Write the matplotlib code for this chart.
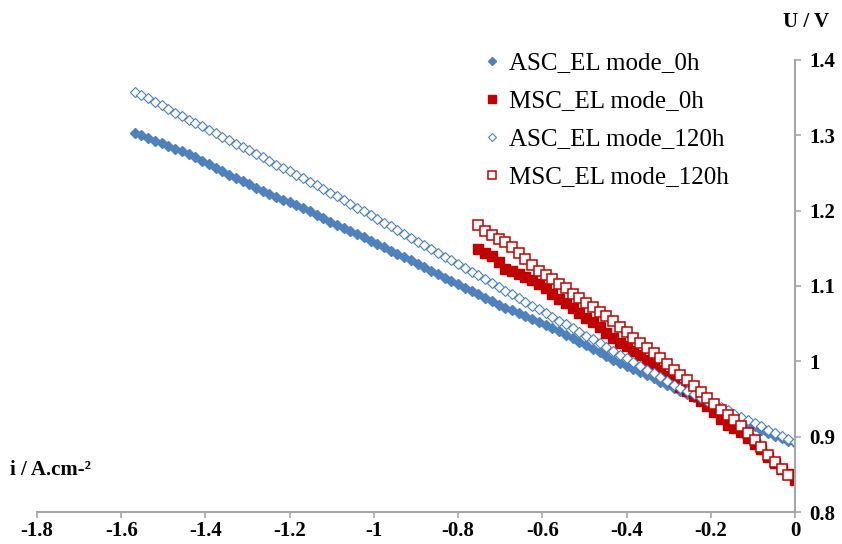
import matplotlib
matplotlib.use("Agg")
import matplotlib.pyplot as plt
from matplotlib.ticker import FuncFormatter, MultipleLocator

plt.rcParams["font.family"] = ["Liberation Serif", "DejaVu Serif"]

# current density grid (A/cm2), shared by the ASC curves
i_asc = [
    -1.568, -1.552, -1.536, -1.520, -1.504, -1.488, -1.472, -1.456, -1.440, -1.424,
    -1.408, -1.392, -1.376, -1.360, -1.344, -1.328, -1.312, -1.296, -1.280, -1.264,
    -1.248, -1.232, -1.216, -1.200, -1.184, -1.168, -1.152, -1.136, -1.120, -1.104,
    -1.088, -1.072, -1.056, -1.040, -1.024, -1.008, -0.992, -0.976, -0.960, -0.944,
    -0.928, -0.912, -0.896, -0.880, -0.864, -0.848, -0.832, -0.816, -0.800, -0.784,
    -0.768, -0.752, -0.736, -0.720, -0.704, -0.688, -0.672, -0.656, -0.640, -0.624,
    -0.608, -0.592, -0.576, -0.560, -0.544, -0.528, -0.512, -0.496, -0.480, -0.464,
    -0.448, -0.432, -0.416, -0.400, -0.384, -0.368, -0.352, -0.336, -0.320, -0.304,
    -0.288, -0.272, -0.256, -0.240, -0.224, -0.208, -0.192, -0.176, -0.160, -0.144,
    -0.128, -0.112, -0.096, -0.080, -0.064, -0.048, -0.032, -0.016, 0.000,
]

u_asc_0h = [
    1.303, 1.300, 1.296, 1.293, 1.290, 1.286, 1.282, 1.279, 1.275, 1.271,
    1.266, 1.262, 1.257, 1.253, 1.248, 1.243, 1.239, 1.235, 1.230, 1.226,
    1.222, 1.218, 1.214, 1.211, 1.207, 1.203, 1.199, 1.194, 1.190, 1.185,
    1.181, 1.177, 1.173, 1.169, 1.165, 1.160, 1.156, 1.152, 1.147, 1.143,
    1.138, 1.134, 1.129, 1.125, 1.120, 1.116, 1.111, 1.107, 1.102, 1.098,
    1.093, 1.089, 1.084, 1.080, 1.075, 1.071, 1.068, 1.064, 1.060, 1.056,
    1.052, 1.048, 1.044, 1.040, 1.035, 1.031, 1.026, 1.022, 1.017, 1.012,
    1.007, 1.002, 0.998, 0.994, 0.990, 0.986, 0.982, 0.978, 0.973, 0.969,
    0.965, 0.961, 0.957, 0.953, 0.949, 0.945, 0.940, 0.936, 0.931, 0.926,
    0.922, 0.918, 0.914, 0.909, 0.905, 0.901, 0.898, 0.894, 0.891,
]

u_asc_120h = [
    1.358, 1.353, 1.349, 1.344, 1.340, 1.335, 1.330, 1.326, 1.321, 1.317,
    1.312, 1.307, 1.303, 1.298, 1.294, 1.289, 1.284, 1.280, 1.275, 1.271,
    1.266, 1.261, 1.257, 1.252, 1.247, 1.243, 1.238, 1.234, 1.229, 1.224,
    1.219, 1.214, 1.209, 1.204, 1.199, 1.194, 1.189, 1.184, 1.179, 1.174,
    1.169, 1.164, 1.159, 1.154, 1.149, 1.144, 1.139, 1.134, 1.129, 1.124,
    1.119, 1.114, 1.109, 1.104, 1.099, 1.094, 1.089, 1.084, 1.079, 1.074,
    1.069, 1.064, 1.059, 1.054, 1.049, 1.044, 1.039, 1.034, 1.029, 1.024,
    1.019, 1.014, 1.009, 1.004, 0.999, 0.994, 0.989, 0.984, 0.979, 0.974,
    0.969, 0.964, 0.960, 0.956, 0.951, 0.947, 0.943, 0.939, 0.935, 0.930,
    0.926, 0.922, 0.918, 0.914, 0.909, 0.905, 0.901, 0.897, 0.893,
]

# current density grid for the MSC curves
i_msc = [
    -0.752, -0.736, -0.720, -0.704, -0.688, -0.672, -0.656, -0.640, -0.624, -0.608,
    -0.592, -0.576, -0.560, -0.544, -0.528, -0.512, -0.496, -0.480, -0.464, -0.448,
    -0.432, -0.416, -0.400, -0.384, -0.368, -0.352, -0.336, -0.320, -0.304, -0.288,
    -0.272, -0.256, -0.240, -0.224, -0.208, -0.192, -0.176, -0.160, -0.144, -0.128,
    -0.112, -0.096, -0.080, -0.064, -0.048, -0.032, -0.016, 0.000,
]

u_msc_0h = [
    1.149, 1.144, 1.140, 1.132, 1.123, 1.120, 1.116, 1.112, 1.108, 1.103,
    1.097, 1.090, 1.083, 1.077, 1.071, 1.064, 1.058, 1.052, 1.045, 1.038,
    1.031, 1.025, 1.020, 1.014, 1.008, 1.002, 0.996, 0.989, 0.981, 0.974,
    0.966, 0.960, 0.954, 0.948, 0.941, 0.933, 0.924, 0.916, 0.911, 0.906,
    0.898, 0.890, 0.883, 0.873, 0.865, 0.857, 0.850, 0.842,
]

u_msc_120h = [
    1.181, 1.173, 1.168, 1.163, 1.158, 1.152, 1.144, 1.136, 1.128, 1.120,
    1.114, 1.109, 1.103, 1.097, 1.090, 1.084, 1.078, 1.072, 1.066, 1.060,
    1.053, 1.046, 1.039, 1.031, 1.024, 1.018, 1.011, 1.004, 0.996, 0.989,
    0.982, 0.975, 0.967, 0.959, 0.951, 0.944, 0.936, 0.929, 0.922, 0.914,
    0.905, 0.895, 0.886, 0.876, 0.866, 0.857, 0.849,
]

blue = "#4F81BD"
red = "#C00000"
axis_grey = "#A6A6A6"

fig = plt.figure(figsize=(8.42, 5.44), dpi=100)
ax = fig.add_axes([37 / 842, 1 - 512 / 544, (795 - 37) / 842, (512 - 60) / 544])

ax.plot(i_asc, u_asc_0h, ls="none", marker="D", ms=5.3, color=blue,
        mec=blue, label="ASC_EL mode_0h")
ax.plot(i_msc, u_msc_0h, ls="none", marker="s", ms=7, color=red,
        mec=red, label="MSC_EL mode_0h")
ax.plot(i_asc, u_asc_120h, ls="none", marker="D", ms=5.3, mfc="white",
        mec=blue, mew=0.8, label="ASC_EL mode_120h")
ax.plot(i_msc[:-1], u_msc_120h, ls="none", marker="s", ms=7, mfc="white",
        mec=red, mew=1.1, label="MSC_EL mode_120h")

ax.set_xlim(-1.8, 0)
ax.set_ylim(0.8, 1.4)
ax.xaxis.set_major_locator(MultipleLocator(0.2))
ax.yaxis.set_major_locator(MultipleLocator(0.1))
fmt = FuncFormatter(lambda v, pos: f"{round(v, 2):g}")
ax.xaxis.set_major_formatter(fmt)
ax.yaxis.set_major_formatter(fmt)

ax.yaxis.tick_right()
for side in ["left", "top"]:
    ax.spines[side].set_visible(False)
for side in ["right", "bottom"]:
    ax.spines[side].set_color(axis_grey)
    ax.spines[side].set_linewidth(1.5)
ax.tick_params(axis="both", colors=axis_grey, width=1.2, length=4.5,
               labelcolor="black", labelsize=15)
ax.tick_params(axis="y", pad=6)
ax.tick_params(axis="x", pad=2)
for lab in ax.get_xticklabels() + ax.get_yticklabels():
    lab.set_fontweight("bold")

fig.text(806 / 842, 1 - 22 / 544, "U / V", ha="center", va="center",
         fontsize=15, fontweight="bold")
fig.text(10 / 842, 1 - 470 / 544, "i / A.cm-²", ha="left", va="center",
         fontsize=15, fontweight="bold")

ax.legend(loc="upper left", bbox_to_anchor=(484 / 842, 1 - 52 / 544),
          bbox_transform=fig.transFigure, frameon=False, fontsize=18,
          handlelength=0.6, handletextpad=0.4, labelspacing=0.62,
          borderaxespad=0, borderpad=0, markerscale=0.8)

fig.savefig("out.png", dpi=100)
